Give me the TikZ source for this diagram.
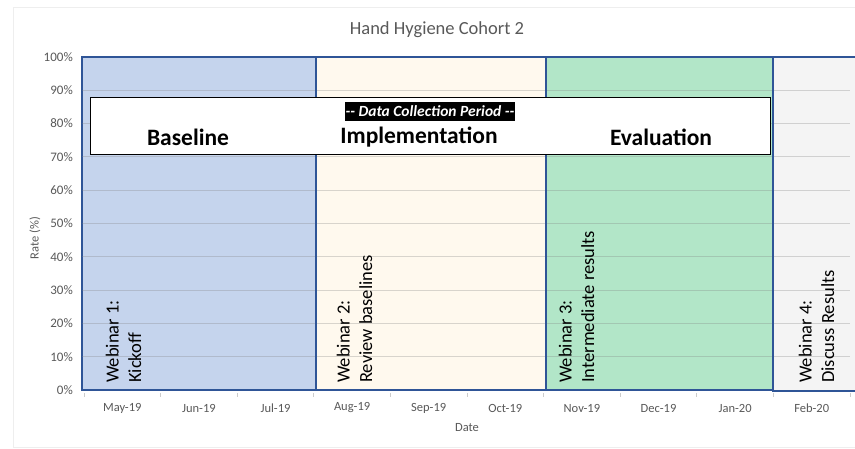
\documentclass[tikz,border=0pt]{standalone}
\usepackage{fontspec}
\setmainfont{Carlito}
\definecolor{bandline}{RGB}{47,85,151}
\definecolor{bluefill}{RGB}{197,212,237}
\definecolor{yelfill}{RGB}{255,249,238}
\definecolor{grnfill}{RGB}{178,230,200}
\definecolor{grayfill}{RGB}{244,244,244}
\definecolor{axtext}{RGB}{89,89,89}
\definecolor{framec}{RGB}{238,238,238}
\tikzset{
  ylab/.style={anchor=east, inner sep=0pt, text=axtext, font=\fontsize{13}{14}\selectfont},
  xlab/.style={anchor=center, inner sep=0pt, text=axtext, font=\fontsize{12.5}{14}\selectfont},
  phase/.style={anchor=center, inner sep=0pt, font=\fontsize{23.5}{26}\selectfont\bfseries},
  webinar/.style={rotate=90, anchor=west, align=left, inner sep=0pt, font=\fontsize{18.5}{22.5}\selectfont},
  gridl/.style={draw=black!50, opacity=0.3, line width=1pt},
  band/.style={draw=bandline, line width=1.2pt},
}
\begin{document}
\begin{tikzpicture}[x=1pt, y=-1pt]
\useasboundingbox (0,0) rectangle (855,449);
\fill[white] (0,0) rectangle (855,449);
% chart frame
\draw[framec, line width=0.8pt] (13,447) -- (13,7) -- (855,7);
\draw[framec, line width=0.8pt] (13,447) -- (855,447);
% title
\node[text=axtext, font=\fontsize{18.5}{20}\selectfont, inner sep=0pt] (title) at (437,30) {Hand Hygiene Cohort 2};
% bands
\filldraw[band, fill=bluefill] (82,57) rectangle (316,390);
\filldraw[band, fill=yelfill] (316,57) rectangle (546,390);
\filldraw[band, fill=grnfill] (546,57) rectangle (773,390);
\filldraw[band, fill=grayfill] (773,57) -- (858,57) (858,391) -- (773,391) -- (773,57);
\fill[grayfill] (773.6,57.6) rectangle (858,390.4);
% gridlines
\foreach \k in {1,...,9} {
  \draw[gridl] (82,{390-33.3*\k}) -- (850,{390-33.3*\k});
}
% separators
\draw[bandline, line width=2pt] (316,57) -- (316,390);
\draw[bandline, line width=1.5pt] (546,57) -- (546,390);
\draw[bandline, line width=2.2pt] (773,57) -- (773,391);
% y labels
\foreach \k in {0,...,10} {
  \pgfmathtruncatemacro{\pct}{10*\k}
  \node[ylab] (y\k) at (73,{390-33.3*\k}) {\pct\%};
}
\node[rotate=90, text=axtext, font=\fontsize{12.5}{14}\selectfont, inner sep=0pt] (yaxis) at (35,238) {Rate (\%)};
% x ticks
\foreach \i in {0,...,10} {
  \draw[black!20, line width=0.8pt] ({84+76.6*\i},393) -- ({84+76.6*\i},397);
}
% x labels
\foreach \m [count=\i from 0] in {May-19,Jun-19,Jul-19,Aug-19,Sep-19,Oct-19,Nov-19,Dec-19,Jan-20,Feb-20} {
  \node[xlab] (x\i) at ({122.3+76.6*\i},408) {\m};
}
\node[xlab] (xaxis) at (467,428) {Date};
% phase box
\node[draw=black, fill=white, line width=0.8pt, minimum width=680pt, minimum height=57pt, inner sep=0pt, anchor=north west] (box) at (90,97) {};
\node[fill=black, text=white, inner xsep=1pt, inner ysep=0pt, minimum height=19pt, font=\fontsize{15.5}{17}\selectfont\bfseries\itshape] (dcp) at (430,111.5) {{-}{-} Data Collection Period {-}{-}};
\node[phase] (base) at (188,137) {Baseline};
\node[phase] (impl) at (419,137) {Implementation};
\node[phase] (eval) at (661,137) {Evaluation};
% webinars
\node[webinar] (w1) at (123.5,383) {Webinar 1:\\Kickoff};
\node[webinar] (w2) at (354.5,383) {Webinar 2:\\Review baselines};
\node[webinar] (w3) at (576.5,383) {Webinar 3:\\Intermediate results};
\node[webinar] (w4) at (816.5,383) {Webinar 4:\\Discuss Results};
\end{tikzpicture}
\end{document}
